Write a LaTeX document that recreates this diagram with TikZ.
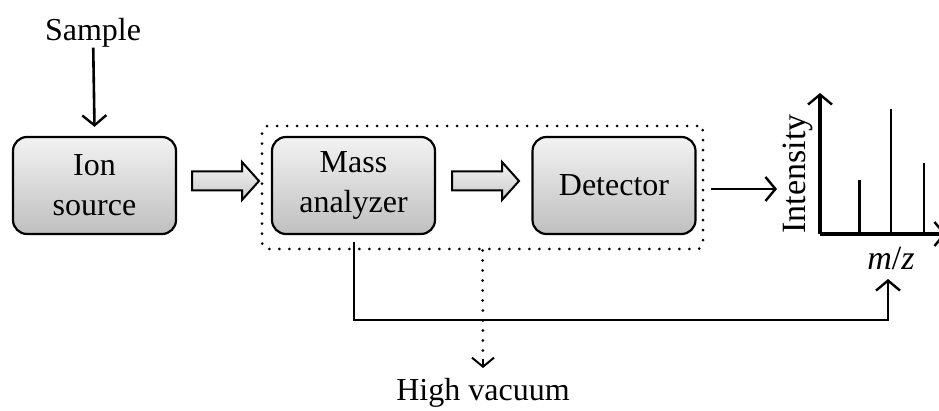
\documentclass[tikz,border=0pt]{standalone}
\usepackage{fontspec}
\setmainfont{Liberation Serif}
\usetikzlibrary{arrows.meta,calc}
\newcommand\lblfont{\fontsize{32}{40}\selectfont}
\tikzset{
  box/.style={draw, line width=2.2pt, rounded corners=14pt, minimum width=163pt,
    minimum height=97pt, top color=gray!10, bottom color=gray!50, align=center,
    font=\lblfont, inner sep=0pt},
  lbl/.style={font=\lblfont, inner sep=0pt},
  conn/.style={line width=2.6pt, -{Straight Barb[length=10pt,width=24pt,line width=2.4pt]}},
  hollow/.style={draw, line width=2pt, top color=gray!8, bottom color=gray!42, line join=miter},
  dotline/.style={line width=3pt, line cap=round, dash pattern=on 0pt off 10pt},
  axis/.style={line width=3.4pt},
  peak/.style={line width=2.4pt}
}
\newcommand\hollowarrow[3]{% x start, x end, y center
  \path[hollow] (#1,#3-9.5) -- (#2-17,#3-9.5) -- (#2-17,#3-19) -- (#2,#3)
    -- (#2-17,#3+19) -- (#2-17,#3+9.5) -- (#1,#3+9.5) -- cycle;}
\begin{document}
\begin{tikzpicture}[x=1pt,y=-1pt]
\useasboundingbox (0,0) rectangle (939,411);
% nodes
\node[lbl] (sample) at (93,33) {Sample};
\node[box] (ion) at (94.5,185.5) {Ion\\source};
\node[box] (mass) at (353.5,185.5) {Mass\\analyzer};
\node[box] (det) at (614,185.5) {Detector};
\node[draw, dotline, rounded corners=6pt, minimum width=441pt, minimum height=123pt,
  inner sep=0pt] (vac) at (482.5,187.5) {};
\node[lbl] (hv) at (483,393) {High vacuum};
% plot
\coordinate (o) at (820,234);
\coordinate (ytop) at (820,93);
\coordinate (xend) at (946,234);
\node[lbl, rotate=90, font=\fontsize{34}{36}\selectfont] (int) at (798,174) {Intensity};
\node[lbl, font=\fontsize{34}{36}\selectfont] (mz) at (891,258) {\textit{m}/\textit{z}};
\draw[axis, -{Straight Barb[length=10pt,width=24pt,line width=2.4pt]}] (o) -- (ytop);
\draw[axis, -{Straight Barb[length=10pt,width=24pt,line width=2.4pt]}] (o) -- (xend);
\draw[peak, line width=3pt] (859,234) -- (859,180);
\draw[peak] (891,234) -- (891,109);
\draw[peak] (924,234) -- (924,163);
% connectors
\draw[conn] (sample) -- ($(ion.north)+(0,-9)$);
\hollowarrow{192}{259}{181}
\hollowarrow{452}{519}{181}
\coordinate (detout) at (711,189);
\coordinate (detin) at (777,189);
\draw[conn] (detout) -- (detin);
\coordinate (turn1) at (354,320);
\coordinate (turn2) at (888,320);
\coordinate (mzin) at (888,279);
\draw[conn] ($(mass.south)+(0.5,7)$) -- (turn1) -- (turn2) -- (mzin);
\coordinate (hvtip) at (483,368);
\draw[dotline] (vac.south) -- (483,358);
\draw[line width=2pt, -{Straight Barb[length=9pt,width=22pt,line width=2pt]}] (483,359) -- (hvtip);
\end{tikzpicture}
\end{document}
